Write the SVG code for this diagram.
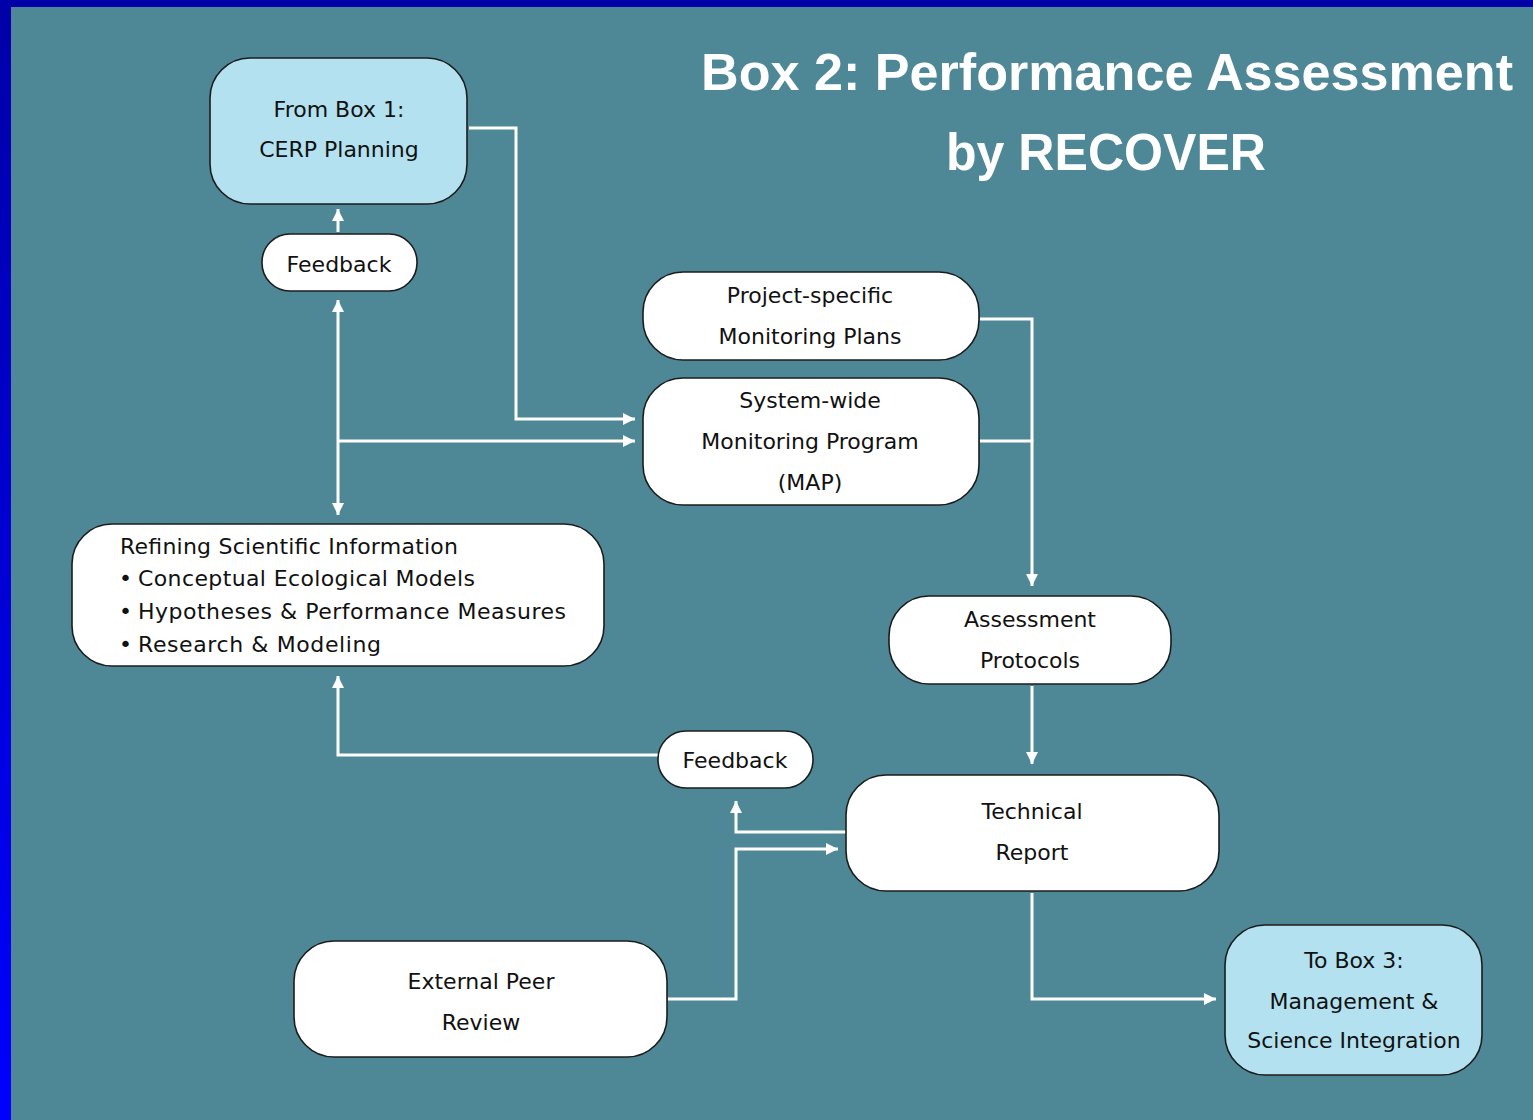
<svg xmlns="http://www.w3.org/2000/svg" width="1533" height="1120" viewBox="0 0 1533 1120">
<defs>
<linearGradient id="frame" x1="0" y1="0" x2="0" y2="1">
<stop offset="0" stop-color="#0000a8"/>
<stop offset="1" stop-color="#0000ff"/>
</linearGradient>
<marker id="ah" viewBox="0 0 10 10" refX="10" refY="5" markerWidth="12" markerHeight="12" markerUnits="userSpaceOnUse" orient="auto">
<path d="M0,0 L10,5 L0,10 z" fill="#ffffff"/>
</marker>
<style>
.box{fill:#ffffff;stroke:#1c1c1c;stroke-width:1.6}
.lb{fill:#b3e1f0;stroke:#1c1c1c;stroke-width:1.6}
.t{font-family:"DejaVu Sans","Liberation Sans",sans-serif;font-size:22px;fill:#111;text-anchor:middle}
.tl{font-family:"DejaVu Sans","Liberation Sans",sans-serif;font-size:22px;fill:#111}
.title{font-family:"Liberation Sans",Arial,sans-serif;font-weight:bold;font-size:52px;fill:#ffffff;text-anchor:middle}
.c{fill:none;stroke:#ffffff;stroke-width:3}
.c.a{marker-end:url(#ah)}
</style>
</defs>
<rect x="0" y="0" width="1533" height="1120" fill="url(#frame)"/>
<rect x="11" y="7" width="1522" height="1113" fill="#4e8897"/>

<g id="title">
<text class="title" x="1107" y="90" textLength="812" lengthAdjust="spacingAndGlyphs">Box 2: Performance Assessment</text>
<text class="title" x="1106" y="170" textLength="320" lengthAdjust="spacingAndGlyphs">by RECOVER</text>
</g>

<g id="connectors">
<polyline class="c a" points="469,128 516,128 516,419 635,419"/>
<line class="c a" x1="338" y1="232" x2="338" y2="209"/>
<line class="c a" x1="338" y1="441" x2="338" y2="300"/>
<line class="c a" x1="338" y1="441" x2="338" y2="515"/>
<line class="c a" x1="338" y1="441" x2="635" y2="441"/>
<polyline class="c" points="980,319 1032,319 1032,441"/>
<polyline class="c a" points="980,441 1032,441 1032,586"/>
<line class="c a" x1="1032" y1="686" x2="1032" y2="764"/>
<polyline class="c a" points="658,755 338,755 338,676"/>
<polyline class="c a" points="846,832 736,832 736,801"/>
<polyline class="c a" points="668,999 736,999 736,849 838,849"/>
<polyline class="c a" points="1032,893 1032,999 1216,999"/>
</g>

<g id="from-box1">
<rect class="lb" x="210" y="58" width="257" height="146" rx="40"/>
<text class="t" x="339" y="117">From Box 1:</text>
<text class="t" x="339" y="157">CERP Planning</text>
</g>

<g id="feedback-top">
<rect class="box" x="262" y="234" width="155" height="57" rx="28"/>
<text class="t" x="339" y="272">Feedback</text>
</g>

<g id="project-specific">
<rect class="box" x="643" y="272" width="336" height="88" rx="40"/>
<text class="t" x="810" y="303">Project-specific</text>
<text class="t" x="810" y="344">Monitoring Plans</text>
</g>

<g id="system-wide">
<rect class="box" x="643" y="378" width="336" height="127" rx="40"/>
<text class="t" x="810" y="408">System-wide</text>
<text class="t" x="810" y="449">Monitoring Program</text>
<text class="t" x="810" y="490">(MAP)</text>
</g>

<g id="refining">
<rect class="box" x="72" y="524" width="532" height="142" rx="40"/>
<text class="tl" x="120" y="554" textLength="338" lengthAdjust="spacing">Refining Scientific Information</text>
<text class="tl" x="119" y="586">•</text>
<text class="tl" x="138" y="586" textLength="337" lengthAdjust="spacing">Conceptual Ecological Models</text>
<text class="tl" x="119" y="619">•</text>
<text class="tl" x="138" y="619" textLength="428" lengthAdjust="spacing">Hypotheses &amp; Performance Measures</text>
<text class="tl" x="119" y="652">•</text>
<text class="tl" x="138" y="652" textLength="243" lengthAdjust="spacing">Research &amp; Modeling</text>
</g>

<g id="assessment">
<rect class="box" x="889" y="596" width="282" height="88" rx="40"/>
<text class="t" x="1030" y="627">Assessment</text>
<text class="t" x="1030" y="668">Protocols</text>
</g>

<g id="feedback-bottom">
<rect class="box" x="658" y="731" width="155" height="57" rx="28"/>
<text class="t" x="735" y="768">Feedback</text>
</g>

<g id="technical">
<rect class="box" x="846" y="775" width="373" height="116" rx="40"/>
<text class="t" x="1032" y="819">Technical</text>
<text class="t" x="1032" y="860">Report</text>
</g>

<g id="peer-review">
<rect class="box" x="294" y="941" width="373" height="116" rx="40"/>
<text class="t" x="481" y="989">External Peer</text>
<text class="t" x="481" y="1030">Review</text>
</g>

<g id="to-box3">
<rect class="lb" x="1225" y="925" width="257" height="150" rx="40"/>
<text class="t" x="1354" y="968">To Box 3:</text>
<text class="t" x="1354" y="1009">Management &amp;</text>
<text class="t" x="1354" y="1048">Science Integration</text>
</g>
</svg>
